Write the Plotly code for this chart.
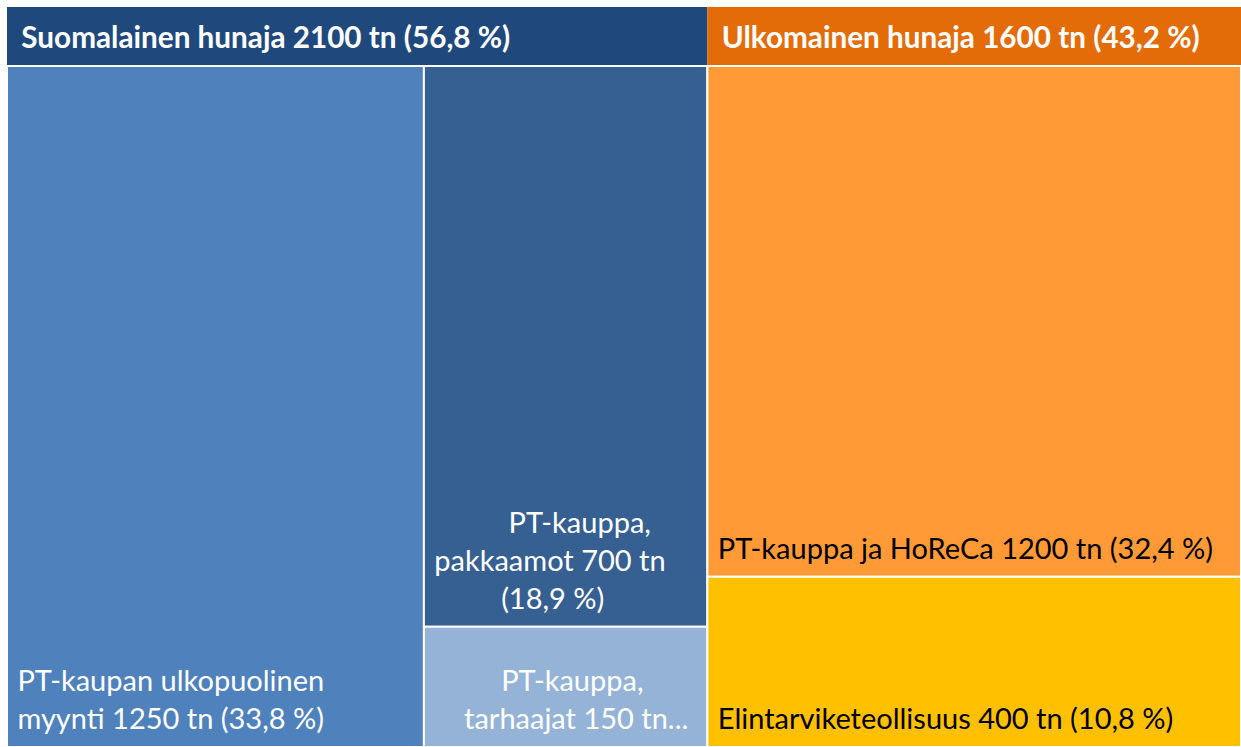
import plotly.graph_objects as go

NB = "\u00a0"
THIN = "\u2009"

# Group level (headers)
group_ids = ["suomi", "ulko"]
group_values = [2100, 1600]
group_texts = [
    "<b>Suomalainen hunaja 2100 tn (56,8 %)</b>",
    "<b>Ulkomainen hunaja 1600 tn (43,2 %)</b>",
]
group_colors = ["#1F497D", "#E36C09"]

# Leaf level
leaf_ids = ["pt_ulko", "pakkaamot", "tarhaajat", "horeca", "elintarvike"]
leaf_parents = ["suomi", "suomi", "suomi", "ulko", "ulko"]
leaf_values = [1250, 700, 150, 1200, 400]
leaf_lines = [
    ["PT-kaupan ulkopuolinen", "myynti 1250 tn (33,8 %)"],
    ["PT-kauppa,", "pakkaamot 700 tn", "(18,9 %)"],
    ["PT-kauppa,", "tarhaajat 150 tn..."],
    ["PT-kauppa ja HoReCa 1200 tn (32,4 %)"],
    ["Elintarviketeollisuus 400 tn (10,8 %)"],
]
leaf_indent = [[1, 1], [11, 1, 10], [10, 5], [1], [1]]
leaf_colors = ["#4F81BD", "#366092", "#95B3D7", "#FF9A36", "#FFC000"]
leaf_text_colors = ["white", "white", "white", "black", "black"]

leaf_texts = [
    "<br>".join(NB * n + s for s, n in zip(lines, ind))
    for lines, ind in zip(leaf_lines, leaf_indent)
]

FONT = "Lato"
W, H = 1241, 747
ML, MT = 7, 7
PH = H - MT
HEADER_H = 58
TEXT_LIFT = 9

ids_all = ["all"] + group_ids + leaf_ids
parents_all = [""] + ["all"] * len(group_ids) + leaf_parents
values_all = [sum(group_values)] + group_values + leaf_values
body_top = 1 - (HEADER_H + 1) / PH

# Header strip (groups as tiles)
header = go.Treemap(
    ids=["hdr"] + group_ids,
    labels=["hdr"] + group_ids,
    parents=[""] + ["hdr"] * len(group_ids),
    values=[sum(group_values)] + group_values,
    text=[""] + [NB + THIN + t for t in group_texts],
    textinfo="text",
    branchvalues="total",
    sort=True,
    marker=dict(colors=["white"] + group_colors, line=dict(width=0),
                pad=dict(t=0, l=0, r=0, b=0)),
    tiling=dict(packing="squarify", squarifyratio=1, pad=0),
    pathbar=dict(visible=False),
    textposition="middle left",
    textfont=dict(family=FONT, size=29.7, color="white"),
    hoverinfo="skip",
    domain=dict(x=[0, 1], y=[1 - HEADER_H / PH, 1]),
)

# Body tiles (no text)
body = go.Treemap(
    ids=ids_all,
    labels=ids_all,
    parents=parents_all,
    values=values_all,
    textinfo="none",
    branchvalues="total",
    sort=True,
    marker=dict(colors=["white"] + group_colors + leaf_colors,
                line=dict(color="white", width=2),
                pad=dict(t=0, l=0, r=0, b=0)),
    tiling=dict(packing="squarify", squarifyratio=1, pad=0),
    pathbar=dict(visible=False),
    hoverinfo="skip",
    domain=dict(x=[0, 1], y=[0, body_top]),
)

# Same tiling, transparent, carrying the labels slightly raised
labels_layer = go.Treemap(
    ids=ids_all,
    labels=ids_all,
    parents=parents_all,
    values=values_all,
    text=["", "", ""] + leaf_texts,
    textinfo="text",
    branchvalues="total",
    sort=True,
    marker=dict(colors=["rgba(0,0,0,0)"] * len(ids_all),
                line=dict(width=0),
                pad=dict(t=0, l=0, r=0, b=0)),
    tiling=dict(packing="squarify", squarifyratio=1, pad=0),
    pathbar=dict(visible=False),
    textposition="bottom left",
    textfont=dict(family=FONT, size=29, color=["white"] * 3 + leaf_text_colors),
    hoverinfo="skip",
    domain=dict(x=[0, 1], y=[TEXT_LIFT / PH, body_top + TEXT_LIFT / PH]),
)

fig = go.Figure([header, body, labels_layer])
fig.update_layout(
    width=W, height=H,
    margin=dict(l=ML, r=0, t=MT, b=0),
    paper_bgcolor="white",
)
fig.write_html(
    "out.html",
    config={"displayModeBar": False},
    post_script="document.body.style.margin='0';document.body.style.overflow='hidden';",
)
